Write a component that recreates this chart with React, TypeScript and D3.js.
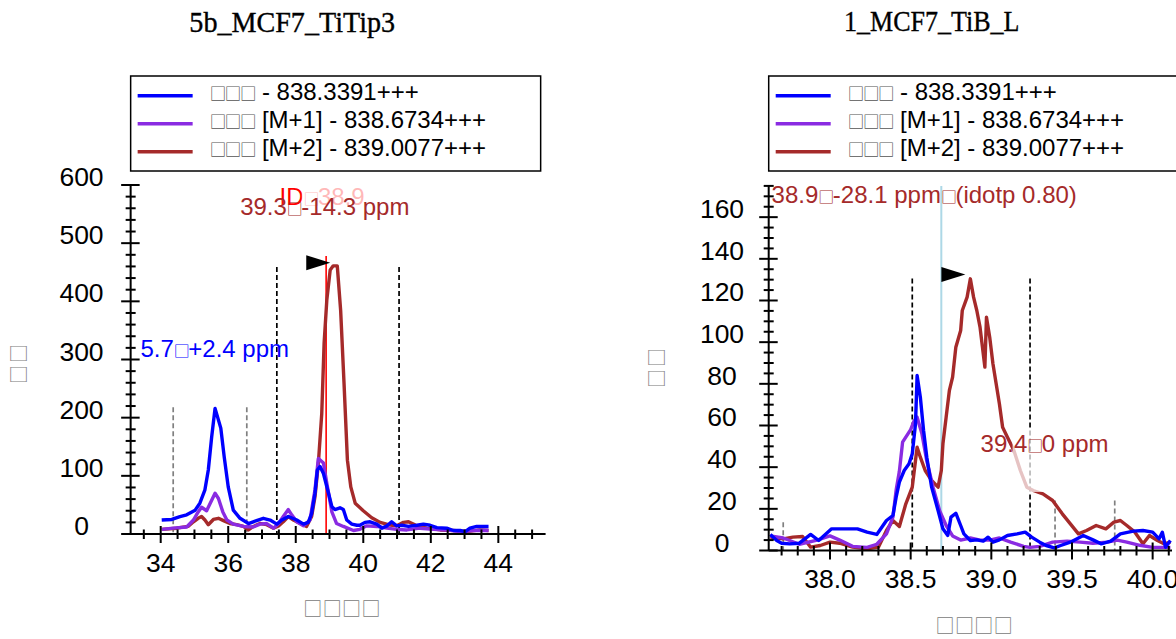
import React from 'react';
import * as d3 from 'd3';

const W = 1176;
const H = 639;
const FONT = "'Liberation Sans', Arial, sans-serif";
const TOFU_FONT = "'Noto Sans CJK SC', 'DejaVu Sans', sans-serif";

// ---------- text ----------
const leftTitle = '5b_MCF7_TiTip3';
const rightTitle = '1_MCF7_TiB_L';
const legendLabels = ['□□□ - 838.3391+++', '□□□ [M+1] - 838.6734+++', '□□□ [M+2] - 839.0077+++'];
const seriesColors = ['#0000FF', '#8A2BE2', '#A52A2A'];
const yAxisTitle = '□□';
const xAxisTitle = '□□□□';

// ---------- ticks ----------
const leftXTicks = [34, 36, 38, 40, 42, 44];
const leftYTicks = [0, 100, 200, 300, 400, 500, 600];
const rightXTicks = [38.0, 38.5, 39.0, 39.5, 40.0];
const rightYTicks = [0, 20, 40, 60, 80, 100, 120, 140, 160];

// ---------- left panel series (retention time, intensity) ----------
const leftBlue: [number, number][] = [[34.03,24],[34.33,25],[34.57,30],[34.77,33],[35.02,41],[35.16,53],[35.31,76],[35.41,110],[35.51,167],[35.61,216],[35.78,182],[35.88,133],[36.0,81],[36.15,41],[36.35,27],[36.6,18],[36.84,23],[37.04,27],[37.24,24],[37.44,17],[37.59,24],[37.78,30],[38.03,24],[38.23,17],[38.37,20],[38.47,35],[38.57,70],[38.64,110],[38.72,116],[38.82,104],[38.97,70],[39.07,47],[39.16,42],[39.31,45],[39.41,42],[39.51,24],[39.66,17],[39.81,15],[39.9,15],[40.05,20],[40.2,21],[40.4,17],[40.55,10],[40.7,14],[40.84,21],[40.99,14],[41.14,15],[41.34,13],[41.59,15],[41.78,17],[41.98,15],[42.18,11],[42.47,10],[42.67,6],[42.87,6],[43.02,4],[43.16,10],[43.36,13],[43.71,13]];
const leftPurple: [number, number][] = [[34.03,8],[34.37,10],[34.77,12],[34.97,24],[35.11,38],[35.21,46],[35.36,40],[35.51,58],[35.61,70],[35.71,61],[35.84,38],[35.96,24],[36.15,17],[36.45,13],[36.74,12],[36.94,17],[37.14,18],[37.34,10],[37.49,18],[37.63,30],[37.78,42],[37.88,33],[38.03,21],[38.23,14],[38.42,24],[38.57,76],[38.67,130],[38.82,122],[38.92,87],[39.07,38],[39.21,18],[39.41,13],[39.71,6],[39.9,8],[40.1,14],[40.4,13],[40.7,10],[40.99,8],[41.29,7],[41.68,10],[42.08,8],[42.47,7],[42.87,4],[43.26,6],[43.71,6]];
const leftBrown: [number, number][] = [[34.03,8],[34.47,10],[34.81,13],[34.97,21],[35.11,27],[35.21,30],[35.31,24],[35.41,16],[35.56,25],[35.71,27],[35.86,23],[36.05,18],[36.25,16],[36.45,13],[36.6,7],[36.74,13],[36.94,18],[37.14,16],[37.34,10],[37.49,14],[37.63,21],[37.78,30],[37.93,24],[38.13,18],[38.32,13],[38.47,30],[38.57,64],[38.67,122],[38.77,207],[38.84,328],[38.92,402],[39.02,454],[39.11,461],[39.23,461],[39.33,384],[39.43,259],[39.53,127],[39.63,81],[39.76,53],[40.0,40],[40.25,28],[40.5,20],[40.74,16],[40.99,14],[41.19,20],[41.34,21],[41.59,14],[41.88,10],[42.28,7],[42.67,6],[43.06,4],[43.46,7],[43.71,6]];

// ---------- right panel series ----------
const rightBlue: [number, number][] = [[37.63,7.7],[37.67,4.8],[37.70,3.5],[37.75,3.2],[37.81,3.5],[37.88,7.7],[37.93,4.8],[38.01,10.4],[38.06,10.4],[38.17,10.4],[38.23,8.8],[38.29,7.7],[38.35,14.4],[38.39,16.8],[38.41,25.6],[38.43,32.8],[38.46,38.4],[38.49,41.6],[38.51,46.4],[38.53,60.8],[38.54,84],[38.56,73.6],[38.58,57.6],[38.60,44.8],[38.63,30.4],[38.67,19.2],[38.70,10.4],[38.73,7.2],[38.75,16],[38.78,17.9],[38.81,12],[38.83,8],[38.87,4.8],[38.91,5.1],[38.95,4.5],[38.98,6.4],[39.01,4],[39.05,5.1],[39.10,7.2],[39.16,8],[39.21,8.8],[39.25,6.4],[39.30,4],[39.34,2.4],[39.39,1.3],[39.43,2.4],[39.49,4],[39.57,7.2],[39.63,5.1],[39.68,3.2],[39.74,4.5],[39.80,8],[39.88,9.3],[39.94,9.6],[40.00,8.8],[40.04,5.6],[40.06,8.8],[40.08,1.6],[40.11,4.8]];
const rightPurple: [number, number][] = [[37.63,7],[37.71,6],[37.81,3],[37.92,5],[38.0,7],[38.06,5],[38.14,2],[38.23,1.5],[38.29,3],[38.35,8],[38.39,16],[38.41,29],[38.43,38],[38.45,52],[38.50,58],[38.52,62],[38.54,64],[38.57,56],[38.60,43],[38.64,30],[38.68,19],[38.72,12],[38.76,7],[38.81,5],[38.87,6],[38.93,5],[38.99,5],[39.05,6],[39.12,4],[39.20,2],[39.24,1.5],[39.30,2],[39.38,4],[39.47,4.5],[39.55,4],[39.63,3.5],[39.72,4],[39.78,5],[39.84,4],[39.92,2.5],[40.0,1.5],[40.11,1.5]];
const rightBrown: [number, number][] = [[37.63,6.4],[37.71,5.6],[37.77,6.4],[37.83,6.7],[37.88,1.6],[37.94,2.4],[38.0,4],[38.06,3.5],[38.14,1.6],[38.23,0.8],[38.30,1.6],[38.35,9.6],[38.39,14.4],[38.43,11.5],[38.47,22.4],[38.51,30.4],[38.53,43.2],[38.54,49.6],[38.56,44.8],[38.59,38.4],[38.63,33.6],[38.67,30.4],[38.69,38.4],[38.70,51.2],[38.72,64],[38.74,76.8],[38.76,83.2],[38.78,97.6],[38.81,105.6],[38.82,115.2],[38.85,121.6],[38.87,130.4],[38.89,121.6],[38.91,115.2],[38.93,107.2],[38.96,88],[38.97,112],[38.99,102.4],[39.01,89.6],[39.03,80],[39.05,70.4],[39.07,59.2],[39.10,54.4],[39.14,48],[39.18,38.4],[39.22,30.4],[39.26,28.8],[39.32,27.2],[39.38,24],[39.44,17.6],[39.49,12.8],[39.54,8],[39.59,9.6],[39.65,12],[39.71,10.4],[39.76,13.6],[39.80,14.4],[39.84,12],[39.89,8.8],[39.94,3.2],[39.98,7.2],[40.03,4.8],[40.07,3.2],[40.11,4]];

// ---------- peak boundaries & markers ----------
const leftBoundaries = [
  { t: 34.37, top: 218, kind: 'other' },
  { t: 36.55, top: 218, kind: 'other' },
  { t: 37.44, top: 459, kind: 'main' },
  { t: 41.06, top: 459, kind: 'main' },
];
const rightBoundaries = [
  { t: 37.71, top: 13.5, kind: 'other' },
  { t: 39.395, top: 24, kind: 'other' },
  { t: 39.765, top: 24, kind: 'other' },
  { t: 38.51, top: 130.5, kind: 'main' },
  { t: 39.24, top: 130.5, kind: 'main' },
];
const leftPeak = { t: 39.17, v: 461 };
const rightPeak = { t: 38.87, v: 131 };
const leftIdLine = { t: 38.9, top: 478 };
const rightIdLine = { t: 38.69 };

const leftLabels = [
  { text: 'ID□38.9', t: 38.78, v: 565.5, color: '#FF0000', anchor: 'middle', veil: null },
  { text: '39.3□-14.3 ppm', t: 38.86, v: 548, color: '#A52A2A', anchor: 'middle', veil: [-23, 45, -29, 28] },
  { text: '5.7□+2.4 ppm', t: 35.6, v: 305, color: '#0000FF', anchor: 'middle', veil: null },
];
const rightLabels = [
  { text: '38.9□-28.1 ppm□(idotp 0.80)', t: 37.638, v: 167, color: '#A52A2A', anchor: 'start', veil: null },
  { text: '39.4□0 ppm', t: 39.33, v: 47.3, color: '#A52A2A', anchor: 'middle', veil: [-32, 33, -22, 40] },
];

function TofuText({ text, tofuFill, tofuSize, tofuSpacing }: { text: string; tofuFill?: string; tofuSize: number; tofuSpacing: number }) {
  const parts = text.split(/(□+)/).filter((s) => s.length > 0);
  return (
    <>
      {parts.map((s, i) =>
        s[0] === '□' ? (
          <tspan key={i} fill={tofuFill} fontFamily={TOFU_FONT} fontSize={tofuSize} letterSpacing={tofuSpacing}>
            {s}
          </tspan>
        ) : (
          <tspan key={i}>{s}</tspan>
        )
      )}
    </>
  );
}

type Cfg = {
  title: string;
  titleX: number;
  titleY: number;
  titleLen: number;
  xDomain: [number, number];
  xRange: [number, number];
  yDomain: [number, number];
  yRange: [number, number];
  xMajor: number[];
  xMinorStep: number;
  xMinorStart: number;
  xFmt: (v: number) => string;
  yMajor: number[];
  yMinorStep: number;
  yLabelX: number;
  yTitleX: number;
  yTitleY: number;
  series: [number, number][][];
  boundaries: { t: number; top: number; kind: string }[];
  peak: { t: number; v: number };
  labels: any[];
  idLine: 'red' | 'blue';
};

function Panel({ cfg }: { cfg: Cfg }) {
  const x = d3.scaleLinear().domain(cfg.xDomain).range(cfg.xRange);
  const y = d3.scaleLinear().domain(cfg.yDomain).range(cfg.yRange);
  const ax = cfg.xRange[0];
  const ay = cfg.yRange[0];
  const line = d3.line<[number, number]>().x((d) => x(d[0])).y((d) => y(d[1]));

  const isMajorX = (v: number) => cfg.xMajor.some((m) => Math.abs(m - v) < 1e-6);
  const xMinor = d3
    .range(cfg.xMinorStart, cfg.xDomain[1] + 1e-9, cfg.xMinorStep)
    .map((v) => Math.round(v * 100) / 100)
    .filter((v) => !isMajorX(v) && x(v) > ax + 1);
  const yMinor = d3
    .range(0, cfg.yDomain[1] + 1e-9, cfg.yMinorStep)
    .filter((v) => !cfg.yMajor.includes(v));

  const legendX = ax;
  const px = x(cfg.peak.t) - 5;
  const py = y(cfg.peak.v) - 3;

  const idLine =
    cfg.idLine === 'red' ? (
      <line x1={x(leftIdLine.t)} x2={x(leftIdLine.t)} y1={y(leftIdLine.top)} y2={ay} stroke="#FF0000" strokeWidth={1.6} />
    ) : (
      <line x1={x(rightIdLine.t)} x2={x(rightIdLine.t)} y1={y(cfg.yDomain[1])} y2={ay} stroke="#ADD8E6" strokeWidth={2} />
    );

  return (
    <g>
      {/* title */}
      <text
        x={cfg.titleX}
        y={cfg.titleY}
        textAnchor="middle"
        fontFamily="'Liberation Serif', 'Times New Roman', serif"
        fontSize={28.5}
        textLength={cfg.titleLen}
        lengthAdjust="spacingAndGlyphs"
        fill="#000"
        stroke="#000"
        strokeWidth={0.35}
      >
        {cfg.title}
      </text>

      {/* legend */}
      <rect x={legendX} y={76} width={410} height={95} fill="#fff" stroke="#000" strokeWidth={1.5} />
      {legendLabels.map((lab, i) => (
        <g key={lab}>
          <line x1={legendX + 7} x2={legendX + 62} y1={95.7 + i * 28} y2={95.7 + i * 28} stroke={seriesColors[i]} strokeWidth={3.5} />
          <text x={legendX + 79} y={100.1 + i * 28} fontSize={24} fill="#000" fontFamily={FONT}>
            <TofuText text={lab} tofuFill="#555" tofuSize={16.5} tofuSpacing={-1.3} />
          </text>
        </g>
      ))}

      {/* boundaries */}
      {cfg.boundaries.map((b, i) => (
        <line
          key={i}
          x1={x(b.t)}
          x2={x(b.t)}
          y1={y(b.top)}
          y2={ay}
          stroke={b.kind === 'main' ? '#000' : '#808080'}
          strokeWidth={1.7}
          strokeDasharray="5,3"
        />
      ))}

      {idLine}

      {/* series (M+2 first, precursor on top) */}
      {[2, 1, 0].map((i) => (
        <path key={i} d={line(cfg.series[i]) || ''} fill="none" stroke={seriesColors[i]} strokeWidth={3.4} strokeLinejoin="round" />
      ))}

      {/* peak marker */}
      <polygon points={`${px - 24},${py - 7.5} ${px},${py} ${px - 24},${py + 7.5}`} fill="#000" />

      {/* labels */}
      {cfg.labels.map((l, i) => {
        const lx = x(l.t);
        const ly = y(l.v);
        return (
          <g key={i}>
            {l.veil && (
              <rect x={lx + l.veil[0]} y={ly + l.veil[2]} width={l.veil[1] - l.veil[0]} height={l.veil[3] - l.veil[2]} fill="#fff" opacity={0.72} />
            )}
            <text x={lx} y={ly} textAnchor={l.anchor} fontSize={24} fill={l.color} fontFamily={FONT}>
              <TofuText text={l.text} tofuSize={16} tofuSpacing={-1.5} />
            </text>
          </g>
        );
      })}

      {/* axes */}
      <line x1={ax} x2={cfg.xRange[1]} y1={ay} y2={ay} stroke="#000" strokeWidth={2} />
      <line x1={ax} x2={ax} y1={ay} y2={cfg.yRange[1]} stroke="#000" strokeWidth={2} />
      {cfg.xMajor.map((v) => (
        <g key={'xm' + v}>
          <line x1={x(v)} x2={x(v)} y1={ay - 8} y2={ay + 9} stroke="#000" strokeWidth={2} />
          <text x={x(v)} y={ay + 37.5} textAnchor="middle" fontSize={26.5} fill="#000" fontFamily={FONT}>
            {cfg.xFmt(v)}
          </text>
        </g>
      ))}
      {xMinor.map((v) => (
        <line key={'xn' + v} x1={x(v)} x2={x(v)} y1={ay - 4.5} y2={ay + 5} stroke="#000" strokeWidth={2} />
      ))}
      {cfg.yMajor.map((v) => (
        <g key={'ym' + v}>
          <line x1={ax - 9.5} x2={ax + 9} y1={y(v)} y2={y(v)} stroke="#000" strokeWidth={2} />
          <text x={cfg.yLabelX} y={y(v) + 1} textAnchor="middle" fontSize={26.5} fill="#000" fontFamily={FONT}>
            {v}
          </text>
        </g>
      ))}
      {yMinor.map((v) => (
        <line key={'yn' + v} x1={ax - 5} x2={ax + 5} y1={y(v)} y2={y(v)} stroke="#000" strokeWidth={2} />
      ))}

      {/* axis titles */}
      <text
        x={(ax + cfg.xRange[1]) / 2 + 4}
        y={ay + 82}
        textAnchor="middle"
        fontSize={19}
        letterSpacing={0.4}
        fill="#7a7a7a"
        fontFamily={TOFU_FONT}
      >
        {xAxisTitle}
      </text>
      <text
        transform={`translate(${cfg.yTitleX},${cfg.yTitleY}) rotate(-90)`}
        textAnchor="middle"
        fontSize={19}
        letterSpacing={2}
        fill="#7a7a7a"
        fontFamily={TOFU_FONT}
      >
        {yAxisTitle}
      </text>
    </g>
  );
}

const leftCfg: Cfg = {
  title: leftTitle,
  titleX: 292.2,
  titleY: 31.7,
  titleLen: 205.7,
  xDomain: [33.11, 45.4],
  xRange: [130.65, 545.6],
  yDomain: [0, 600],
  yRange: [534, 185],
  xMajor: leftXTicks,
  xMinorStep: 0.5,
  xMinorStart: 33.5,
  xFmt: (v) => String(v),
  yMajor: leftYTicks,
  yMinorStep: 20,
  yLabelX: 81.5,
  yTitleX: 26,
  yTitleY: 363,
  series: [leftBlue, leftPurple, leftBrown],
  boundaries: leftBoundaries,
  peak: leftPeak,
  labels: leftLabels,
  idLine: 'red',
};

const rightCfg: Cfg = {
  title: rightTitle,
  titleX: 931.7,
  titleY: 30.5,
  titleLen: 175.3,
  xDomain: [37.62, 40.12],
  xRange: [768.7, 1172],
  yDomain: [0, 175],
  yRange: [550.5, 185.9],
  xMajor: rightXTicks,
  xMinorStep: 0.1,
  xMinorStart: 37.7,
  xFmt: (v) => d3.format('.1f')(v),
  yMajor: rightYTicks,
  yMinorStep: 5,
  yLabelX: 722,
  yTitleX: 664,
  yTitleY: 367,
  series: [rightBlue, rightPurple, rightBrown],
  boundaries: rightBoundaries,
  peak: rightPeak,
  labels: rightLabels,
  idLine: 'blue',
};

export default function App() {
  return (
    <svg width={W} height={H} style={{ position: 'absolute', left: 0, top: 0, display: 'block' }} fontFamily={FONT}>
      <rect width={W} height={H} fill="#fff" />
      <Panel cfg={leftCfg} />
      <Panel cfg={rightCfg} />
    </svg>
  );
}
